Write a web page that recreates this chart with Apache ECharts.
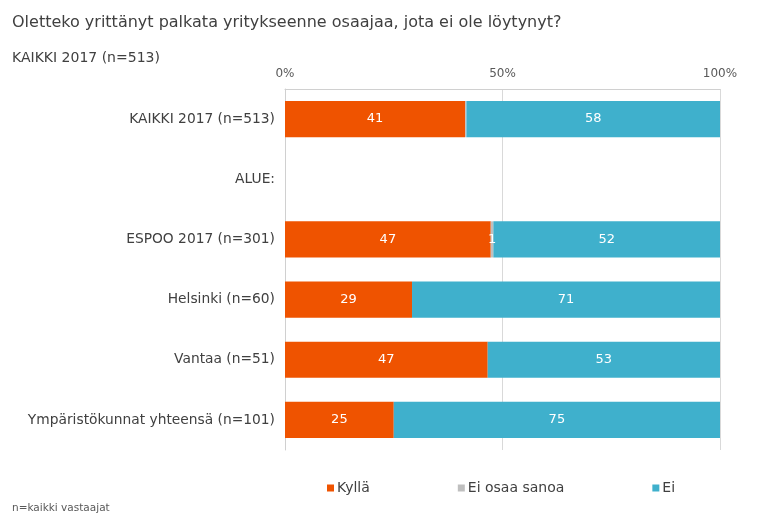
<!DOCTYPE html>
<html><head><meta charset="utf-8">
<script src="https://cdn.jsdelivr.net/npm/echarts@6/dist/echarts.min.js"></script>
<style>html,body{margin:0;padding:0;background:#fff}#c{width:762px;height:520px}</style>
</head><body><div id="c"></div>
<script>
const categories = ['KAIKKI 2017 (n=513)', 'ALUE:', 'ESPOO 2017 (n=301)', 'Helsinki (n=60)', 'Vantaa (n=51)', 'Ympäristökunnat yhteensä (n=101)'];
const seriesNames = ['Kyllä', 'Ei osaa sanoa', 'Ei'];
const kylla = [41.4, null, 47.3, 29.2, 46.6, 25];
const eos = [0.3, null, 0.6, 0, 0, 0];
const ei = [58.3, null, 52.1, 70.8, 53.4, 75];
const tickLabels = ['0%', '50%', '100%'];
const colors = ['#ef5300', '#bfbfbf', '#3fb0cc'];

const F = 'DejaVu Sans, Verdana, sans-serif';
const chart = echarts.init(document.getElementById('c'));
const lbl = {
  show: true, color: '#fff', fontFamily: F, fontSize: 13,
  formatter: p => (p.value == null || Math.round(p.value) < 1) ? '' : String(Math.round(p.value))
};
const mk = (name, data, i) => ({
  name, type: 'bar', stack: 'a', data, barWidth: '60%',
  itemStyle: { color: colors[i] }, label: lbl, emphasis: { disabled: true }
});
chart.setOption({
  animation: false,
  title: [
    { text: 'Oletteko yrittänyt palkata yritykseenne osaajaa, jota ei ole löytynyt?', left: 7, top: 10,
      textStyle: { fontFamily: F, fontSize: 16, fontWeight: 'normal', color: '#404040' } },
    { text: 'KAIKKI 2017 (n=513)', left: 7, top: 46,
      textStyle: { fontFamily: F, fontSize: 14, fontWeight: 'normal', color: '#404040' } },
    { text: 'n=kaikki vastaajat', left: 7, top: 498,
      textStyle: { fontFamily: F, fontSize: 10.5, fontWeight: 'normal', color: '#595959' } }
  ],
  legend: {
    data: seriesNames, left: 322, top: 476, itemWidth: 7, itemHeight: 7, itemGap: 88,
    icon: 'rect', textStyle: { fontFamily: F, fontSize: 14, color: '#404040', padding: [0, 0, 0, -2] }
  },
  grid: { left: 285, right: 42, top: 89, bottom: 70 },
  xAxis: {
    type: 'value', position: 'top', min: 0, max: 100, interval: 50,
    axisLine: { show: true, lineStyle: { color: '#d0d0d0' } },
    axisTick: { show: false },
    axisLabel: { fontFamily: F, fontSize: 12, color: '#595959', margin: 9,
      formatter: v => tickLabels[v / 50] },
    splitLine: { show: true, lineStyle: { color: '#d9d9d9' } }
  },
  yAxis: {
    type: 'category', data: categories, inverse: true,
    axisLine: { show: true, lineStyle: { color: '#d0d0d0' } },
    axisTick: { show: false },
    axisLabel: { fontFamily: F, fontSize: 13.8, color: '#404040', margin: 10 }
  },
  series: [mk(seriesNames[0], kylla, 0), mk(seriesNames[1], eos, 1), mk(seriesNames[2], ei, 2)]
});
</script></body></html>
